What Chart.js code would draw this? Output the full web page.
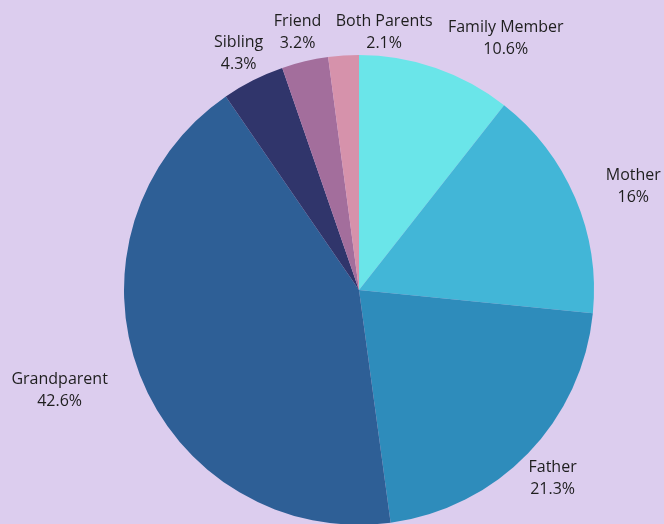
<!DOCTYPE html>
<html>
<head>
<meta charset="utf-8">
<script src="https://cdn.jsdelivr.net/npm/chart.js@4.4.0/dist/chart.umd.min.js"></script>
<style>
  html, body { margin: 0; padding: 0; width: 664px; height: 524px; overflow: hidden; background: #DCCDEE; }
  #wrap { position: relative; width: 664px; height: 530px; }
</style>
</head>
<body>
<div id="wrap"><canvas id="c"></canvas></div>
<script>
const categories = ["Family Member", "Mother", "Father", "Grandparent", "Sibling", "Friend", "Both Parents"];
const values = [10.6, 16, 21.3, 42.6, 4.3, 3.2, 2.1];
const valueLabels = ["10.6%", "16%", "21.3%", "42.6%", "4.3%", "3.2%", "2.1%"];
const colors = ["#6AE5E9", "#42B6D7", "#2E8CBB", "#2E5F96", "#30356B", "#A36E9C", "#D692AB"];
// label placement relative to slice mid-angle: [angle shift in degrees, distance from centre in px]
const labelPlacement = [[11, 293], [2, 294], [0, 269], [3, 315], [0, 267], [0, 267], [9.3, 261]];

const labelPlugin = {
  id: 'outerLabels',
  afterDatasetsDraw(chart) {
    const ctx = chart.ctx;
    const meta = chart.getDatasetMeta(0);
    ctx.save();
    ctx.font = '16px "Open Sans", sans-serif';
    ctx.fillStyle = '#1E1E1E';
    ctx.textAlign = 'center';
    ctx.textBaseline = 'middle';
    meta.data.forEach((arc, i) => {
      const p = arc.getProps(['x', 'y', 'startAngle', 'endAngle'], true);
      const mid = (p.startAngle + p.endAngle) / 2 + labelPlacement[i][0] * Math.PI / 180;
      const d = labelPlacement[i][1];
      const cx = p.x + Math.cos(mid) * d;
      const cy = p.y + Math.sin(mid) * d;
      ctx.fillText(categories[i], cx, cy - 9);
      ctx.fillText(valueLabels[i], cx, cy + 13);
    });
    ctx.restore();
  }
};

new Chart(document.getElementById('c'), {
  type: 'pie',
  data: {
    labels: categories,
    datasets: [{ data: values, backgroundColor: colors, borderWidth: 0 }]
  },
  options: {
    responsive: true,
    maintainAspectRatio: false,
    animation: false,
    layout: { padding: { top: 55, bottom: 5, left: 124, right: 70 } },
    plugins: { legend: { display: false }, tooltip: { enabled: false } }
  },
  plugins: [labelPlugin]
});
</script>
</body>
</html>
